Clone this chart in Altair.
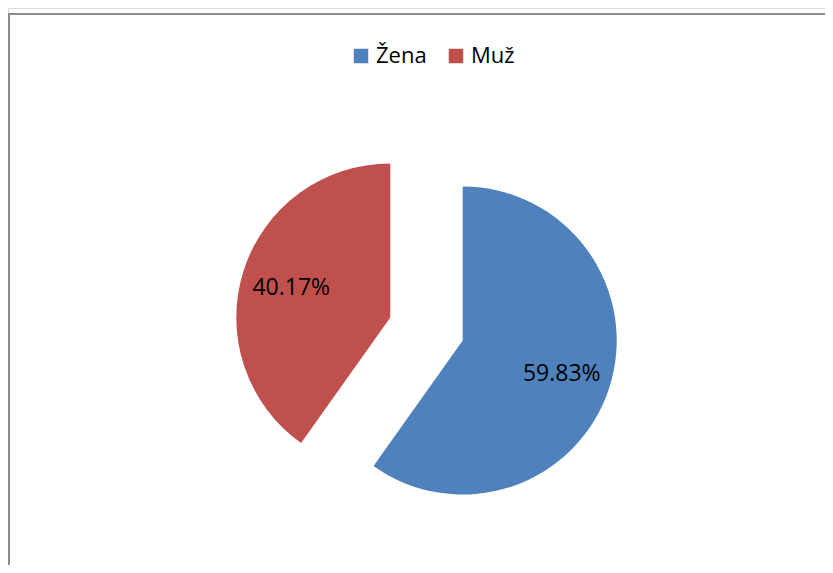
import math
import altair as alt
import pandas as pd

categories = ["Žena", "Muž"]
values = [59.83, 40.17]
labels = ["59.83%", "40.17%"]
colors = ["#4F81BD", "#C0504D"]

# layout constants (chart pixel space)
CX, CY = 418.5, 321.0   # pie centre before exploding
EXPLODE = 38.0          # explosion distance
R = 154                 # pie radius
LABEL_R = 104           # label distance from slice centre

total = sum(values)
rows = []
cum = 0.0
for i, (c, v, l) in enumerate(zip(categories, values, labels)):
    start = cum / total * 2 * math.pi
    cum += v
    end = cum / total * 2 * math.pi
    mid = (start + end) / 2
    cx = CX + EXPLODE * math.sin(mid)
    cy = CY - EXPLODE * math.cos(mid)
    rows.append({
        "idx": i, "category": c, "value": v, "label": l,
        "cx": cx, "cy": cy,
        "lx": cx + LABEL_R * math.sin(mid),
        "ly": cy - LABEL_R * math.cos(mid) + 2,
    })
df = pd.DataFrame(rows)

color_scale = alt.Scale(domain=categories, range=colors)

base = alt.Chart(df)

arcs = base.mark_arc(radius=R, strokeWidth=0).encode(
    theta=alt.Theta("value:Q", stack=True),
    order=alt.Order("idx:Q"),
    x=alt.X("cx:Q", scale=None),
    y=alt.Y("cy:Q", scale=None),
    color=alt.Color(
        "category:N",
        scale=color_scale,
        sort=categories,
        legend=alt.Legend(
            title=None,
            orient="none",
            direction="horizontal",
            legendX=342,
            legendY=37,
            padding=0,
            symbolType="square",
            symbolSize=210,
            symbolStrokeWidth=0,
            symbolOpacity=1,
            labelFont="Open Sans",
            labelFontSize=22,
            labelColor="#000000",
            labelOffset=4,
            columnPadding=18,
        ),
    ),
)

texts = base.mark_text(font="Open Sans", fontSize=23, color="#000000",
                       align="center", baseline="middle").encode(
    x=alt.X("lx:Q", scale=None),
    y=alt.Y("ly:Q", scale=None),
    text="label:N",
)

frame_v = alt.Chart(df).mark_rule(color="#8c8c8c", strokeWidth=2).encode(
    x=alt.value(1), y=alt.value(6), y2=alt.value(557)
)
frame_h = alt.Chart(df).mark_rule(color="#8c8c8c", strokeWidth=2).encode(
    x=alt.value(0), x2=alt.value(817), y=alt.value(6)
)

chart = alt.layer(frame_v, frame_h, arcs, texts).properties(
    width=817, height=557, padding=0, autosize="none"
).configure_view(stroke=None).configure(background="#ffffff")

chart.save("out.html", embed_options={"renderer": "svg", "actions": False})
